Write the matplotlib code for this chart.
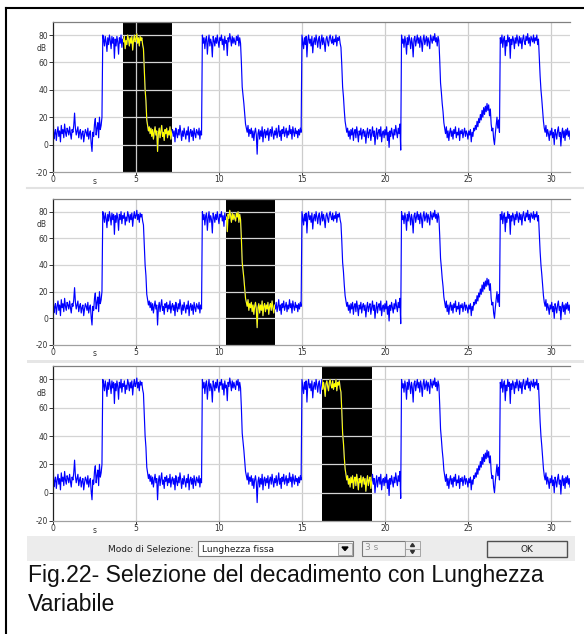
import numpy as np
import matplotlib.pyplot as plt
from matplotlib.patches import Rectangle, Polygon

W, H = 584, 634

# sound level trace, one value every 0.05 s (dB)
level_db = [
    25, 4, 8, 11, 3, 9, 13, 6, 10, 2, 14, 8, 11, 5, 15, 9, 6, 12, 10, 7,            # 0 s
    13, 8, 4, 11, 9, 14, 23, 12, 7, 10, 13, 5, 9, 11, 4, 8, 10, 2, 7, 11,           # 1 s
    9, 6, 12, 4, 8, 10, 1, -5, 9, 6, 15, 19, 7, 12, 16, 5, 20, 11, 14, 20,          # 2 s
    80, 77, 72, 79, 75, 68, 78, 73, 80, 76, 70, 79, 74, 78, 63, 77, 72, 79, 75, 66,  # 3 s
    78, 74, 80, 71, 77, 75, 79, 70, 76, 73, 80, 77, 72, 78, 74, 79, 69, 76, 80, 75,  # 4 s
    77, 81, 74, 78, 72, 79, 76, 78, 73, 70, 55, 40, 32, 18, 14, 10, 13, 8, 12, 6,   # 5 s
    11, 4, 9, 13, 7, 10, -5, 8, 12, 5, 10, 14, 6, 9, 3, 11, 8, 12, 5, 10,           # 6 s
    7, 13, 4, 9, 11, 6, 10, 2, 12, 8, 5, 11, 7, 14, 9, 3, 10, 6, 12, 8,             # 7 s
    4, 10, 7, 13, 2, 9, 11, 6, 10, 3, 12, 8, 5, 11, 9, 7, 12, 4, 10, 7,             # 8 s
    80, 74, 78, 70, 77, 79, 66, 75, 80, 72, 77, 74, 64, 79, 76, 72, 78, 74, 80, 75,  # 9 s
    71, 78, 76, 80, 73, 77, 69, 79, 74, 76, 65, 78, 75, 81, 77, 72, 79, 74, 78, 75,  # 10 s
    73, 79, 76, 80, 72, 78, 74, 60, 42, 36, 30, 22, 15, 12, 9, 14, 6, 11, 8, 12,    # 11 s
    5, 10, 3, 9, 12, 7, -7, 8, 11, 4, 10, 6, 13, 2, 9, 11, 5, 10, 7, 12,            # 12 s
    3, 9, 11, 6, 13, 8, 4, 10, 7, 12, 5, 9, 14, 6, 10, 3, 11, 8, 13, 6,             # 13 s
    9, 12, 5, 10, 7, 14, 8, 11, 4, 13, 9, 6, 12, 8, 10, 5, 11, 7, 12, 9,            # 14 s
    80, 75, 70, 78, 73, 79, 64, 76, 80, 74, 77, 72, 79, 67, 75, 78, 73, 80, 76, 71,  # 15 s
    77, 79, 70, 75, 80, 73, 78, 74, 68, 77, 79, 75, 72, 78, 80, 76, 74, 79, 73, 77,  # 16 s
    75, 80, 72, 78, 76, 79, 74, 71, 58, 42, 35, 25, 17, 13, 9, 12, 6, 10, 4, 11,    # 17 s
    7, 12, 3, 9, 11, 5, 13, 8, 2, 10, 7, 12, 4, 9, 11, 6, 10, 1, 8, 12,             # 18 s
    5, 9, 11, 3, 8, 13, 6, 10, 0, 7, 12, 4, 9, 11, 6, 13, 2, 8, 10, 5,              # 19 s
    11, 7, 13, 3, 9, -2, 10, 6, 12, 8, 4, 11, 7, 14, 9, 5, 12, 8, 15, -4,           # 20 s
    80, 74, 77, 71, 79, 75, 66, 78, 73, 80, 76, 70, 78, 74, 64, 77, 79, 72, 76, 80,  # 21 s
    74, 78, 71, 79, 75, 68, 77, 80, 73, 76, 79, 72, 78, 75, 70, 80, 77, 74, 79, 76,  # 22 s
    81, 75, 78, 72, 79, 76, 62, 45, 38, 30, 24, 16, 12, 8, 13, 5, 10, 3, 9, 12,     # 23 s
    6, 10, 4, 11, 8, 13, 5, 9, 7, 12, 3, 10, 8, 11, 5, 9, 12, 6, 10, 8,             # 24 s
    4, 10, 7, 11, 2, 9, 6, 12, 10, 14, 11, 17, 13, 19, 16, 22, 18, 25, 20, 27,      # 25 s
    22, 28, 24, 30, 25, 29, 21, 26, 15, 10, 12, 4, 0, 8, 14, 20, 12, 18, 9, 78,     # 26 s
    74, 80, 71, 77, 79, 65, 76, 72, 80, 75, 78, 63, 77, 73, 79, 76, 70, 78, 74, 80,  # 27 s
    76, 72, 79, 74, 78, 70, 77, 80, 75, 73, 79, 76, 81, 74, 78, 72, 79, 77, 75, 80,  # 28 s
    74, 78, 76, 80, 73, 77, 64, 50, 40, 33, 25, 17, 12, 9, 14, 6, 11, 8, 3, 10,     # 29 s
    7, 12, 5, 9, 0, 11, 8, 4, 10, 13, 6, 9, -1, 8, 12, 5, 10, 3, 11, 7,             # 30 s
    12, 6, 10, 4,                                                                   # 31 s
]
dt = 0.05

y_ticks = [-20, 0, 20, 40, 60, 80]
x_ticks = [0, 5, 10, 15, 20, 25, 30]
# selected 3 s window in each panel (s)
selections = [(4.2, 7.2), (10.4, 13.4), (16.2, 19.2)]

t = np.arange(len(level_db)) * dt
level = np.array(level_db, dtype=float)

fig = plt.figure(figsize=(W / 100, H / 100), dpi=100, facecolor='white')


def px_axes(left, top, right, bottom, **kw):
    return fig.add_axes([left / W, 1 - bottom / H, (right - left) / W, (bottom - top) / H], **kw)


def draw_panel(ax, sel):
    ax.set_xlim(0, 31.15)
    ax.set_ylim(-20, 89.5)
    box = Rectangle((sel[0], -20), sel[1] - sel[0], 110, facecolor='black', edgecolor='none', zorder=0.5)
    ax.add_patch(box)
    for v in x_ticks[1:]:
        ax.axvline(v, color='#cccccc', lw=0.9, zorder=1)
    for v in y_ticks[1:]:
        ax.axhline(v, color='#d4d4d4', lw=0.9, zorder=1)
    ax.plot(t, level, color='#0000ff', lw=0.85, zorder=2)
    hl, = ax.plot(t, level, color='#ffff00', lw=0.85, zorder=3)
    hl.set_clip_path(box)

    ax.set_yticks(y_ticks)
    ax.set_yticklabels([str(v) for v in y_ticks])
    ax.set_xticks(x_ticks)
    ax.set_xticklabels([str(v) for v in x_ticks])
    ax.tick_params(axis='y', length=3, width=0.7, pad=0.5, labelsize=5.5, colors='#333333')
    ax.tick_params(axis='x', length=2, width=0.7, pad=0.3, labelsize=5.5, colors='#333333')
    ax.text(-0.012, 70, 'dB', transform=ax.get_yaxis_transform(), ha='right', va='center',
            fontsize=5.5, color='#333333')
    ax.text(2.5, -0.03, 's', transform=ax.get_xaxis_transform(), ha='center', va='top',
            fontsize=5.5, color='#333333')
    ax.spines['right'].set_visible(False)
    ax.spines['left'].set_color('#202020')
    ax.spines['top'].set_color('#808080')
    ax.spines['bottom'].set_color('#a0a0a0')
    for s in ax.spines.values():
        s.set_linewidth(0.9)


panels = [(22, 172), (199, 345), (366, 521)]
for (top, bottom), sel in zip(panels, selections):
    ax = px_axes(53, top, 570, bottom)
    draw_panel(ax, sel)

# overlay for frame, dialog bar and caption (pixel coordinates)
ov = px_axes(0, 0, W, H, zorder=10)
ov.set_xlim(0, W)
ov.set_ylim(H, 0)
ov.axis('off')
ov.patch.set_visible(False)

ov.plot([6, 6], [8, H], color='black', lw=1.5)
ov.plot([6, W], [8, 8], color='black', lw=1.5)
ov.plot([27, W], [188, 188], color='#e2e2e2', lw=1.5)
ov.add_patch(Rectangle((27, 359.5), W - 27, 3, facecolor='#e6e6e6', edgecolor='none'))

# dialog bar
ov.add_patch(Rectangle((27, 536), 548, 25, facecolor='#ececec', edgecolor='none'))
ui_font = dict(fontsize=6.5, family='DejaVu Sans', color='#202020')
ov.text(193, 549, 'Modo di Selezione:', ha='right', va='center', **ui_font)
ov.add_patch(Rectangle((198, 541), 155, 15, facecolor='white', edgecolor='#7a7a7a', lw=0.8))
ov.text(202, 549, 'Lunghezza fissa', ha='left', va='center', **ui_font)
ov.add_patch(Rectangle((338, 542.5), 14, 12, facecolor='#ececec', edgecolor='#9a9a9a', lw=0.6))
ov.add_patch(Polygon([[342, 547], [348, 547], [345, 550.5]], closed=True, color='black'))
ov.add_patch(Rectangle((362, 541), 43, 15, facecolor='#f0f0f0', edgecolor='#7a7a7a', lw=0.8))
ov.text(365, 548, '3 s', ha='left', va='center', fontsize=6.5, family='DejaVu Sans', color='#909090')
ov.add_patch(Rectangle((405, 541), 15, 15, facecolor='#ececec', edgecolor='#9a9a9a', lw=0.6))
ov.plot([405, 420], [548.5, 548.5], color='#9a9a9a', lw=0.6)
ov.add_patch(Polygon([[410.5, 546.5], [414.5, 546.5], [412.5, 543.5]], closed=True, color='#303030'))
ov.add_patch(Polygon([[410.5, 550.5], [414.5, 550.5], [412.5, 553.5]], closed=True, color='#303030'))
ov.add_patch(Rectangle((487, 541), 80, 16, facecolor='#ececec', edgecolor='#505050', lw=1.0))
ov.text(527, 549, 'OK', ha='center', va='center', **ui_font)

# caption
ov.text(28, 564, 'Fig.22- Selezione del decadimento con Lunghezza\nVariabile',
        ha='left', va='top', fontsize=16.6, family='Liberation Sans', color='#111111',
        linespacing=1.35)

fig.savefig('out.png', dpi=100, facecolor='white')
